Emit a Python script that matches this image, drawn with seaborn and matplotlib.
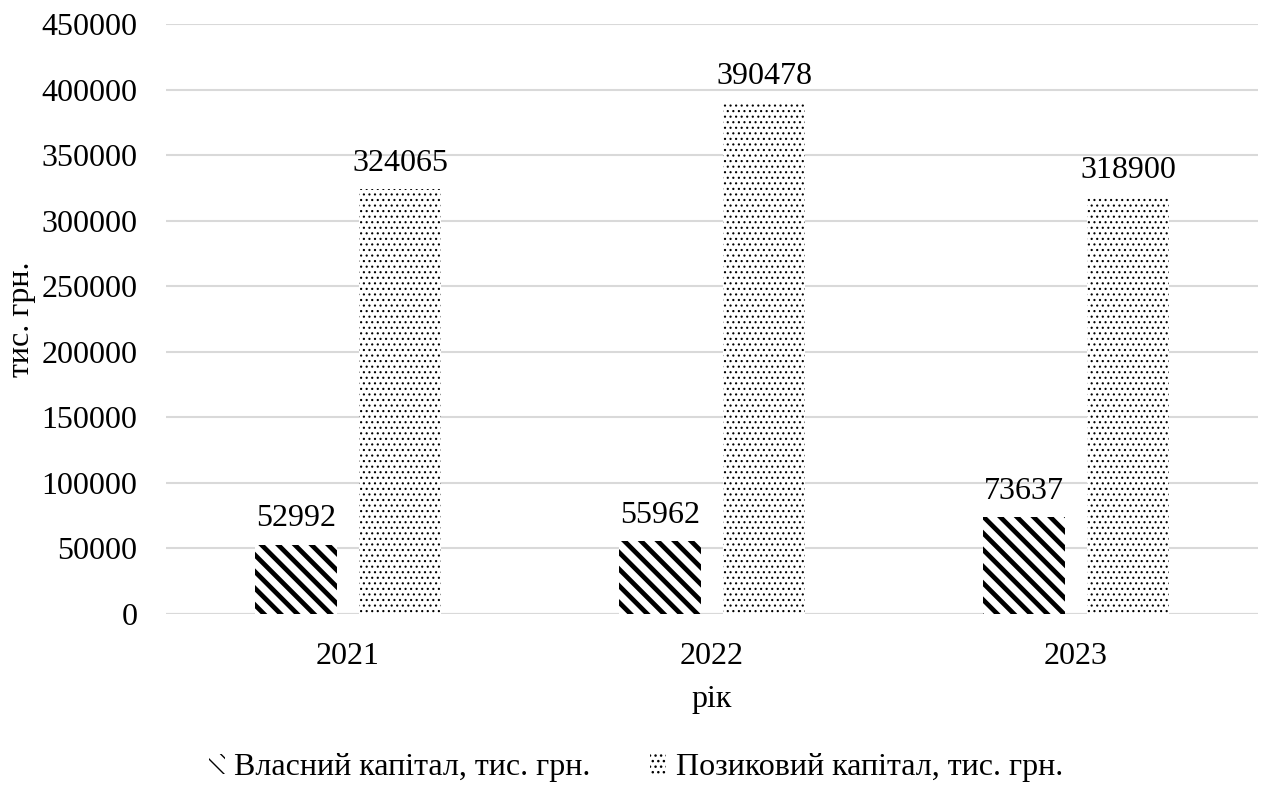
import numpy as np
import pandas as pd
from matplotlib import pyplot as plt
import seaborn as sns

# data
years = ['2021', '2022', '2023']
own_capital = [52992, 55962, 73637]
loan_capital = [324065, 390478, 318900]
series_names = ['Власний капітал, тис. грн.', 'Позиковий капітал, тис. грн.']
y_ticks = [0, 50000, 100000, 150000, 200000, 250000, 300000, 350000, 400000, 450000]

df = pd.DataFrame({
    'year': years * 2,
    'value': own_capital + loan_capital,
    'series': [series_names[0]] * 3 + [series_names[1]] * 3,
})

sns.set_theme(style='white')
plt.rcParams['font.family'] = ['Liberation Serif', 'DejaVu Serif']
plt.rcParams['hatch.color'] = 'black'
plt.rcParams['text.color'] = 'black'
plt.rcParams['axes.labelcolor'] = 'black'
plt.rcParams['xtick.color'] = 'black'
plt.rcParams['ytick.color'] = 'black'

FS = 23

fig = plt.figure(figsize=(12.64, 7.89), dpi=100)
ax = fig.add_axes([0.1313, 0.2218, 0.864, 0.7478])

sns.barplot(data=df, x='year', y='value', hue='series', ax=ax,
            palette=['white', 'white'], width=0.572, gap=0.21,
            edgecolor='black', linewidth=0, saturation=1)

hatches = ['\\\\', '...']
hatch_lw = [3.4, 0.8]


def style_patch(p, h, hl):
    p.set_hatch(h)
    p.set_edgecolor('black')
    p.set_linewidth(0)
    try:
        p.set_hatch_linewidth(hl)
    except AttributeError:
        pass


for cont, h, hl in zip(ax.containers, hatches, hatch_lw):
    for bar in cont:
        style_patch(bar, h, hl)
    ax.bar_label(cont, labels=[str(int(v)) for v in cont.datavalues],
                 padding=8, fontsize=FS)

ax.set_ylim(0, 450000)
ax.set_yticks(y_ticks)
ax.set_yticklabels([str(t) for t in y_ticks])
ax.yaxis.grid(True, color='#d9d9d9', linewidth=1.5)
ax.set_axisbelow(True)
sns.despine(ax=ax, left=True, bottom=True, top=True, right=True)
ax.axhline(0, color='#d9d9d9', linewidth=1.5, zorder=0.5)
ax.tick_params(axis='y', length=0, pad=20.5, labelsize=FS)
ax.tick_params(axis='x', length=0, pad=20, labelsize=FS)
ax.set_xlabel('рік', fontsize=FS, labelpad=10)
ax.set_ylabel('тис. грн.', fontsize=FS, labelpad=4)

handles, labels = ax.get_legend_handles_labels()
for hnd, h, hl in zip(handles, hatches, hatch_lw):
    style_patch(hnd, h, hl)
ax.legend(handles, labels, loc='center', bbox_to_anchor=(0.503, 0.027),
          bbox_transform=fig.transFigure, ncol=2, frameon=False,
          fontsize=FS, handlelength=0.5, handleheight=0.6,
          handletextpad=0.3, columnspacing=1.87)

fig.savefig('out.png', dpi=100)
